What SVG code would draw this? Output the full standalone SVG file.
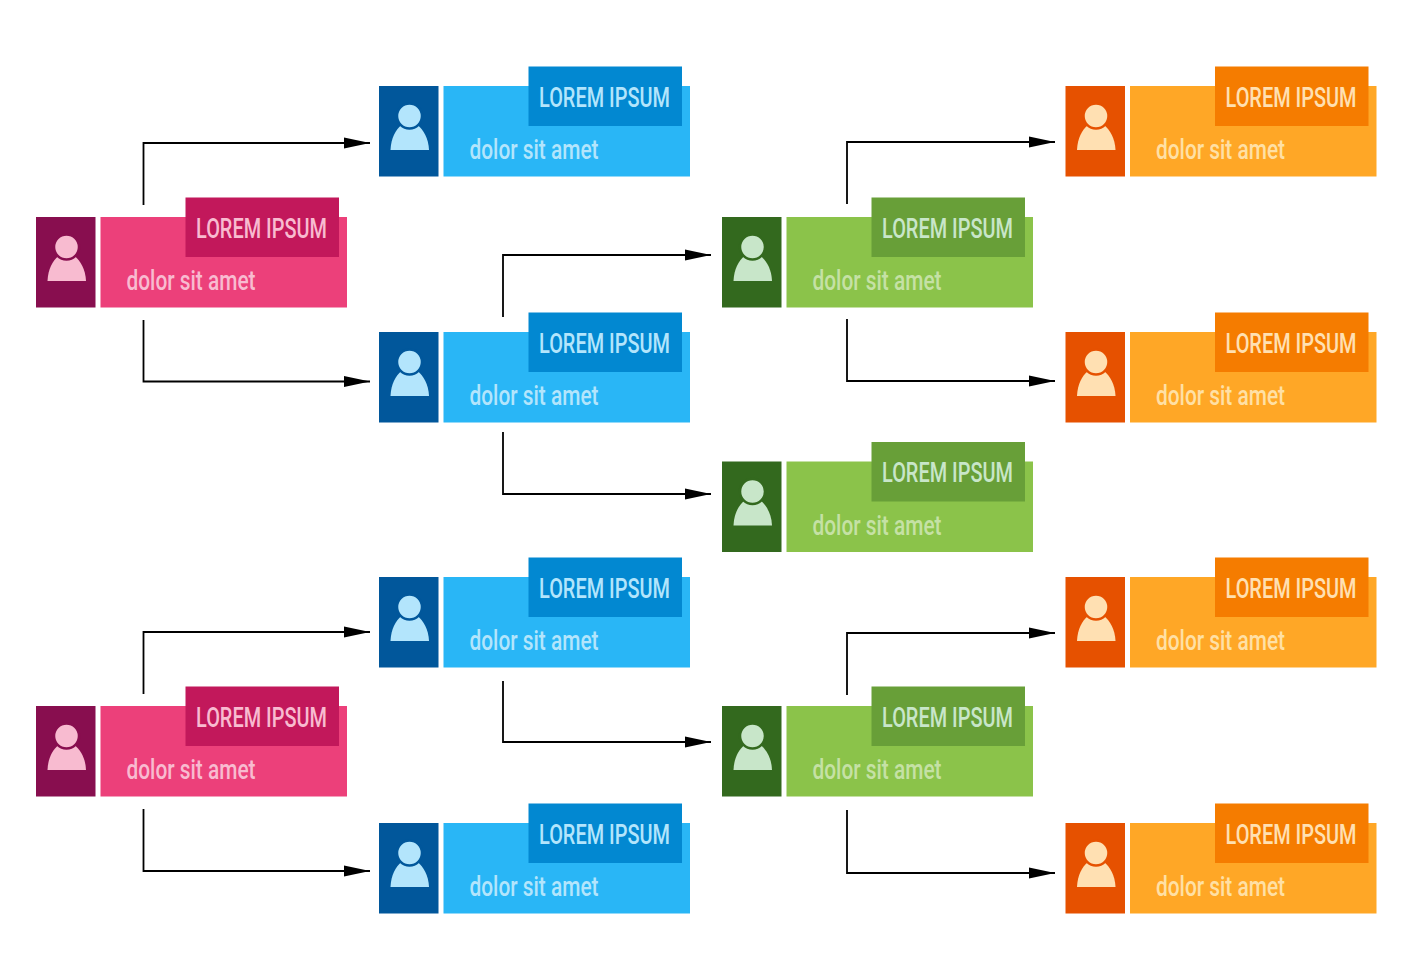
<svg xmlns="http://www.w3.org/2000/svg" width="1412" height="980" viewBox="0 0 1412 980">
<style>
.t,.s{font-family:"Roboto","Liberation Sans",sans-serif;font-size:27px;font-weight:500}
.c{fill:none;stroke:#000;stroke-width:1.8;marker-end:url(#a)}
.i{width:59.500px;height:90.500px}
.b{x:64.500px;width:246.500px;height:90.500px}
.h{x:149.500px;y:-19.500px;width:153.500px;height:59.500px}
.pi .i{fill:#880E4F}.pi .b{fill:#EC407A}.pi .h{fill:#C2185B}.pi .t,.pi .s,.pi .p{fill:#F8BBD0}.pi circle{stroke:#880E4F}
.bl .i{fill:#01579B}.bl .b{fill:#29B6F6}.bl .h{fill:#0288D1}.bl .t,.bl .s,.bl .p{fill:#B3E5FC}.bl circle{stroke:#01579B}
.gr .i{fill:#33691E}.gr .b{fill:#8BC34A}.gr .h{fill:#689F38}.gr .t,.gr .p{fill:#C8E6C9}.gr .s{fill:#C5E1A5}.gr circle{stroke:#33691E}
.or .i{fill:#E65100}.or .b{fill:#FFA726}.or .h{fill:#F57C00}.or .t,.or .p{fill:#FFE0B2}.or .s{fill:#FFE0A5}.or circle{stroke:#E65100}
circle{stroke-width:2.500}
</style>
<defs>
<marker id="a" markerUnits="userSpaceOnUse" markerWidth="26" markerHeight="12" refX="26" refY="6" orient="auto"><path d="M0 0.500L26 6L0 11.500z" fill="#000"/></marker>
</defs>
<rect width="1412" height="980" fill="#fff"/>
<g id="connectors">
<path class="c" d="M143.500 205V143H370"/>
<path class="c" d="M143.500 320V381.500H370"/>
<path class="c" d="M503 317V255H711"/>
<path class="c" d="M503 432V494H711"/>
<path class="c" d="M143.500 694V632H370"/>
<path class="c" d="M143.500 809V871H370"/>
<path class="c" d="M503 681V742H711"/>
<path class="c" d="M847 204V142H1055"/>
<path class="c" d="M847 319V381H1055"/>
<path class="c" d="M847 695V633H1055"/>
<path class="c" d="M847 810V873H1055"/>
</g>
<g id="node1" class="pi" transform="translate(36 217)"><rect class="i"/><rect class="b"/><rect class="h"/><path class="p" d="M11.500 64C12 52 16.500 44 22.500 39H38.500C44.500 44 49.500 52 50 64Z"/><circle class="p" cx="30.500" cy="30" r="12.500"/><text class="t" x="160" y="20.500" textLength="131" lengthAdjust="spacingAndGlyphs">LOREM IPSUM</text><text class="s" x="90.500" y="73" textLength="129" lengthAdjust="spacingAndGlyphs">dolor sit amet</text></g>
<g id="node2" class="pi" transform="translate(36 706)"><rect class="i"/><rect class="b"/><rect class="h"/><path class="p" d="M11.500 64C12 52 16.500 44 22.500 39H38.500C44.500 44 49.500 52 50 64Z"/><circle class="p" cx="30.500" cy="30" r="12.500"/><text class="t" x="160" y="20.500" textLength="131" lengthAdjust="spacingAndGlyphs">LOREM IPSUM</text><text class="s" x="90.500" y="73" textLength="129" lengthAdjust="spacingAndGlyphs">dolor sit amet</text></g>
<g id="node3" class="bl" transform="translate(379 86)"><rect class="i"/><rect class="b"/><rect class="h"/><path class="p" d="M11.500 64C12 52 16.500 44 22.500 39H38.500C44.500 44 49.500 52 50 64Z"/><circle class="p" cx="30.500" cy="30" r="12.500"/><text class="t" x="160" y="20.500" textLength="131" lengthAdjust="spacingAndGlyphs">LOREM IPSUM</text><text class="s" x="90.500" y="73" textLength="129" lengthAdjust="spacingAndGlyphs">dolor sit amet</text></g>
<g id="node4" class="bl" transform="translate(379 332)"><rect class="i"/><rect class="b"/><rect class="h"/><path class="p" d="M11.500 64C12 52 16.500 44 22.500 39H38.500C44.500 44 49.500 52 50 64Z"/><circle class="p" cx="30.500" cy="30" r="12.500"/><text class="t" x="160" y="20.500" textLength="131" lengthAdjust="spacingAndGlyphs">LOREM IPSUM</text><text class="s" x="90.500" y="73" textLength="129" lengthAdjust="spacingAndGlyphs">dolor sit amet</text></g>
<g id="node5" class="bl" transform="translate(379 577)"><rect class="i"/><rect class="b"/><rect class="h"/><path class="p" d="M11.500 64C12 52 16.500 44 22.500 39H38.500C44.500 44 49.500 52 50 64Z"/><circle class="p" cx="30.500" cy="30" r="12.500"/><text class="t" x="160" y="20.500" textLength="131" lengthAdjust="spacingAndGlyphs">LOREM IPSUM</text><text class="s" x="90.500" y="73" textLength="129" lengthAdjust="spacingAndGlyphs">dolor sit amet</text></g>
<g id="node6" class="bl" transform="translate(379 823)"><rect class="i"/><rect class="b"/><rect class="h"/><path class="p" d="M11.500 64C12 52 16.500 44 22.500 39H38.500C44.500 44 49.500 52 50 64Z"/><circle class="p" cx="30.500" cy="30" r="12.500"/><text class="t" x="160" y="20.500" textLength="131" lengthAdjust="spacingAndGlyphs">LOREM IPSUM</text><text class="s" x="90.500" y="73" textLength="129" lengthAdjust="spacingAndGlyphs">dolor sit amet</text></g>
<g id="node7" class="gr" transform="translate(722 217)"><rect class="i"/><rect class="b"/><rect class="h"/><path class="p" d="M11.500 64C12 52 16.500 44 22.500 39H38.500C44.500 44 49.500 52 50 64Z"/><circle class="p" cx="30.500" cy="30" r="12.500"/><text class="t" x="160" y="20.500" textLength="131" lengthAdjust="spacingAndGlyphs">LOREM IPSUM</text><text class="s" x="90.500" y="73" textLength="129" lengthAdjust="spacingAndGlyphs">dolor sit amet</text></g>
<g id="node8" class="gr" transform="translate(722 461.500)"><rect class="i"/><rect class="b"/><rect class="h"/><path class="p" d="M11.500 64C12 52 16.500 44 22.500 39H38.500C44.500 44 49.500 52 50 64Z"/><circle class="p" cx="30.500" cy="30" r="12.500"/><text class="t" x="160" y="20.500" textLength="131" lengthAdjust="spacingAndGlyphs">LOREM IPSUM</text><text class="s" x="90.500" y="73" textLength="129" lengthAdjust="spacingAndGlyphs">dolor sit amet</text></g>
<g id="node9" class="gr" transform="translate(722 706)"><rect class="i"/><rect class="b"/><rect class="h"/><path class="p" d="M11.500 64C12 52 16.500 44 22.500 39H38.500C44.500 44 49.500 52 50 64Z"/><circle class="p" cx="30.500" cy="30" r="12.500"/><text class="t" x="160" y="20.500" textLength="131" lengthAdjust="spacingAndGlyphs">LOREM IPSUM</text><text class="s" x="90.500" y="73" textLength="129" lengthAdjust="spacingAndGlyphs">dolor sit amet</text></g>
<g id="node10" class="or" transform="translate(1065.500 86)"><rect class="i"/><rect class="b"/><rect class="h"/><path class="p" d="M11.500 64C12 52 16.500 44 22.500 39H38.500C44.500 44 49.500 52 50 64Z"/><circle class="p" cx="30.500" cy="30" r="12.500"/><text class="t" x="160" y="20.500" textLength="131" lengthAdjust="spacingAndGlyphs">LOREM IPSUM</text><text class="s" x="90.500" y="73" textLength="129" lengthAdjust="spacingAndGlyphs">dolor sit amet</text></g>
<g id="node11" class="or" transform="translate(1065.500 332)"><rect class="i"/><rect class="b"/><rect class="h"/><path class="p" d="M11.500 64C12 52 16.500 44 22.500 39H38.500C44.500 44 49.500 52 50 64Z"/><circle class="p" cx="30.500" cy="30" r="12.500"/><text class="t" x="160" y="20.500" textLength="131" lengthAdjust="spacingAndGlyphs">LOREM IPSUM</text><text class="s" x="90.500" y="73" textLength="129" lengthAdjust="spacingAndGlyphs">dolor sit amet</text></g>
<g id="node12" class="or" transform="translate(1065.500 577)"><rect class="i"/><rect class="b"/><rect class="h"/><path class="p" d="M11.500 64C12 52 16.500 44 22.500 39H38.500C44.500 44 49.500 52 50 64Z"/><circle class="p" cx="30.500" cy="30" r="12.500"/><text class="t" x="160" y="20.500" textLength="131" lengthAdjust="spacingAndGlyphs">LOREM IPSUM</text><text class="s" x="90.500" y="73" textLength="129" lengthAdjust="spacingAndGlyphs">dolor sit amet</text></g>
<g id="node13" class="or" transform="translate(1065.500 823)"><rect class="i"/><rect class="b"/><rect class="h"/><path class="p" d="M11.500 64C12 52 16.500 44 22.500 39H38.500C44.500 44 49.500 52 50 64Z"/><circle class="p" cx="30.500" cy="30" r="12.500"/><text class="t" x="160" y="20.500" textLength="131" lengthAdjust="spacingAndGlyphs">LOREM IPSUM</text><text class="s" x="90.500" y="73" textLength="129" lengthAdjust="spacingAndGlyphs">dolor sit amet</text></g>
</svg>
